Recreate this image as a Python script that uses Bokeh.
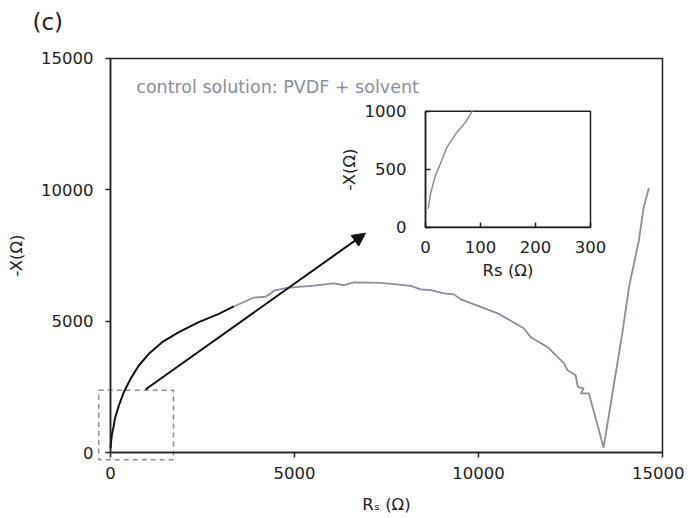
from bokeh.plotting import figure
from bokeh.models import (Range1d, LinearAxis, FixedTicker, Arrow, NormalHead, Label)
from bokeh.embed import file_html
from bokeh.resources import INLINE

# ---------------- data ----------------
# black part of the curve (low Rs), including the region shown in the inset
black_rs = [5, 9, 18, 27, 39, 55, 73, 85, 118, 227, 362, 543, 770, 1042, 1404,
            1857, 2400, 2944, 3350]
black_x = [159, 288, 446, 546, 690, 805, 905, 1000, 1282, 1789, 2296, 2804, 3312,
           3757, 4199, 4580, 4961, 5280, 5560]

# grey measured part of the curve
gray_rs = [3350, 3900, 4210, 4330, 4440, 4800, 5530, 6070, 6340, 6620, 7340, 7700,
           8160, 8430, 8700, 9060, 9330, 9520, 10520, 11230, 11420, 11880, 12320,
           12420, 12640, 12700, 12860, 12780, 13000, 13400, 13920, 14090, 14360,
           14490, 14630]
gray_x = [5560, 5900, 5930, 6030, 6160, 6270, 6350, 6440, 6370, 6475, 6460, 6410,
          6340, 6210, 6180, 6060, 6020, 5830, 5300, 4730, 4390, 4010, 3400,
          3130, 2940, 2490, 2440, 2250, 2250, 190, 4660, 6300, 8090,
          9350, 10070]

main_ticks = [0, 5000, 10000, 15000]
inset_x_ticks = [0, 100, 200, 300]
inset_y_ticks = [0, 500, 1000]

series_label = "control solution: PVDF + solvent"
panel_label = "(c)"

# zoom box (region magnified in the inset) and arrow
zoom_box_rs = [-320, 1710]
zoom_box_x = [-280, 2370]
arrow_rs = [950, 6930]
arrow_x = [2400, 8350]

# ---------------- style ----------------
FONT = "DejaVu Sans"
TXT = "#222222"
GRAY = "#8a8f9d"
FS = "16.5px"

# The plotting frame covers the whole canvas; axes are drawn at fixed
# locations (x=0 / y=0) so nothing that pokes out of the 0..15000 box is clipped.
p = figure(width=684, height=516, output_backend="svg", toolbar_location=None,
           x_range=Range1d(-2989.1, 15597.8), y_range=Range1d(-2436.5, 17208.1),
           x_axis_location=None, y_axis_location=None,
           min_border=0)
p.grid.visible = False
p.outline_line_color = None


def style_axis(ax, tick_in, tick_out):
    ax.axis_line_width = 1.5
    ax.axis_line_color = TXT
    ax.major_tick_line_color = TXT
    ax.major_tick_line_width = 1.5
    ax.major_tick_out = tick_out
    ax.major_tick_in = tick_in
    ax.minor_tick_line_color = None
    ax.major_label_text_font = FONT
    ax.major_label_text_font_size = FS
    ax.major_label_text_color = TXT
    ax.axis_label_text_font = FONT
    ax.axis_label_text_font_size = FS
    ax.axis_label_text_font_style = "normal"
    ax.axis_label_text_color = TXT


ax_x = LinearAxis(fixed_location=0, bounds=(main_ticks[0], main_ticks[-1]),
                  ticker=FixedTicker(ticks=main_ticks), axis_label="R\u209b (\u03a9)")
ax_y = LinearAxis(fixed_location=0, bounds=(main_ticks[0], main_ticks[-1]),
                  ticker=FixedTicker(ticks=main_ticks), axis_label="-X(\u03a9)")
style_axis(ax_x, 0, 5)
style_axis(ax_y, 0, 5)
ax_x.major_label_standoff = 9
ax_y.major_label_standoff = 12
ax_x.axis_label_standoff = 13
ax_y.axis_label_standoff = 12
p.add_layout(ax_x, "below")
p.add_layout(ax_y, "left")

# box: top and right edges
p.quad(left=[main_ticks[0]], right=[main_ticks[-1]],
       bottom=[main_ticks[0]], top=[main_ticks[-1]],
       fill_color=None, line_color=TXT, line_width=1.5)

# dashed zoom box
p.quad(left=[zoom_box_rs[0]], right=[zoom_box_rs[1]],
       bottom=[zoom_box_x[0]], top=[zoom_box_x[1]],
       fill_color=None, line_color=GRAY, line_width=1.5, line_dash="5 4")

# main curve
p.line(black_rs, black_x, line_color="#111111", line_width=2)
p.line(gray_rs, gray_x, line_color=GRAY, line_width=1.8)

# panel label and series text
p.add_layout(Label(x=-2120, y=16903, text=panel_label, text_font=FONT,
                   text_font_size="23px", text_color=TXT, text_baseline="top"))
p.add_layout(Label(x=700, y=13900, text=series_label, text_font=FONT,
                   text_font_size="17.5px", text_color=GRAY,
                   text_baseline="alphabetic"))

# arrow
p.add_layout(Arrow(end=NormalHead(size=13, fill_color="#111111", line_color="#111111"),
                   x_start=arrow_rs[0], y_start=arrow_x[0],
                   x_end=arrow_rs[1], y_end=arrow_x[1],
                   line_color="#111111", line_width=2))

# ---------------- inset ----------------
p.extra_x_ranges = {"ix": Range1d(-772.7, 470.9)}
p.extra_y_ranges = {"iy": Range1d(-2494.0, 1954.3)}

inset_rs = [r for r, x in zip(black_rs, black_x)
            if r <= inset_x_ticks[-1] and x <= inset_y_ticks[-1]]
inset_x = [x for r, x in zip(black_rs, black_x)
           if r <= inset_x_ticks[-1] and x <= inset_y_ticks[-1]]

p.quad(left=[inset_x_ticks[0]], right=[inset_x_ticks[-1]],
       bottom=[inset_y_ticks[0]], top=[inset_y_ticks[-1]],
       fill_color=None, line_color=TXT, line_width=1.5,
       x_range_name="ix", y_range_name="iy")
p.line(inset_rs, inset_x, line_color=GRAY, line_width=1.5,
       x_range_name="ix", y_range_name="iy")

ax_il = LinearAxis(x_range_name="ix", y_range_name="iy", fixed_location=0,
                   bounds=(inset_y_ticks[0], inset_y_ticks[-1]),
                   ticker=FixedTicker(ticks=inset_y_ticks), axis_label="-X(\u03a9)")
ax_ib = LinearAxis(x_range_name="ix", y_range_name="iy", fixed_location=0,
                   bounds=(inset_x_ticks[0], inset_x_ticks[-1]),
                   ticker=FixedTicker(ticks=inset_x_ticks), axis_label="Rs (\u03a9)")
style_axis(ax_il, 5, 0)
style_axis(ax_ib, 5, 0)
ax_il.major_label_standoff = 19
ax_il.axis_label_standoff = 3
ax_ib.major_label_standoff = 14
ax_ib.axis_label_standoff = 4
p.add_layout(ax_il, "left")
p.add_layout(ax_ib, "below")

open("out.html", "w").write(file_html(p, INLINE))
